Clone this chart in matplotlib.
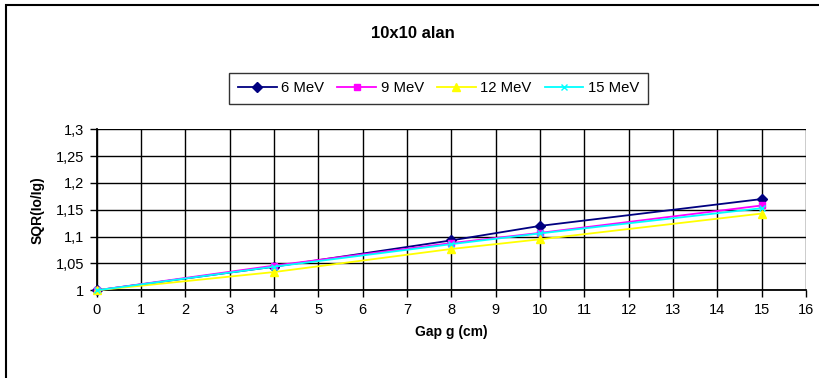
import matplotlib.pyplot as plt
from matplotlib.patches import Rectangle

plt.rcParams['font.family'] = ['Liberation Sans', 'DejaVu Sans']

# gap values (cm) and SQR(Io/Ig) for each energy
gap = [0, 4, 8, 10, 15]
mev6 = [1.0, 1.044, 1.093, 1.120, 1.170]
mev9 = [1.0, 1.046, 1.088, 1.107, 1.158]
mev12 = [1.0, 1.034, 1.077, 1.095, 1.143]
mev15 = [1.0, 1.044, 1.086, 1.106, 1.153]

labels = ['6 MeV', '9 MeV', '12 MeV', '15 MeV']
colors = ['#000080', '#FF00FF', '#FFFF00', '#00FFFF']
markers = ['D', 's', '^', 'x']
sizes = [5, 5, 6, 5]

fig = plt.figure(figsize=(8.19, 3.78), dpi=100)
ax = fig.add_axes([0.1181, 0.232, 0.866, 0.426])

for vals, lab, c, m, ms in zip([mev6, mev9, mev12, mev15], labels, colors, markers, sizes):
    ax.plot(gap, vals, color=c, marker=m, markersize=ms, linewidth=1.3,
            label=lab, clip_on=False, zorder=3)

ax.set_xlim(0, 16)
ax.set_ylim(1, 1.3)
ax.set_xticks(range(0, 17))
yt = [1, 1.05, 1.1, 1.15, 1.2, 1.25, 1.3]
ax.set_yticks(yt)
ax.set_yticklabels(['1', '1,05', '1,1', '1,15', '1,2', '1,25', '1,3'])
ax.grid(True, color='black', linewidth=1.0)
ax.set_axisbelow(True)
for side in ['top', 'right']:
    ax.spines[side].set_visible(False)
for side in ['left', 'bottom']:
    ax.spines[side].set_linewidth(1.3)
ax.tick_params(direction='out', length=5, width=1, labelsize=10.5, pad=4)

ax.set_xlabel('Gap g (cm)', fontsize=10, fontweight='bold', labelpad=6)
ax.set_ylabel('SQR(Io/Ig)', fontsize=10, fontweight='bold', labelpad=8)

fig.text(0.504, 0.912, '10x10 alan', ha='center', va='center',
         fontsize=12, fontweight='bold')

leg = fig.legend(loc='center', bbox_to_anchor=(0.5355, 0.766), ncol=4,
                 frameon=True, fancybox=False, fontsize=10.7,
                 handlelength=2.6, handletextpad=0.3, columnspacing=0.9,
                 borderpad=0.6)
leg.get_frame().set_edgecolor('black')
leg.get_frame().set_linewidth(1.0)

# outer chart border
fig.patches.append(Rectangle((6 / 819, -0.1), 1.2, 1.1 - 5 / 378,
                             transform=fig.transFigure, fill=False,
                             edgecolor='black', linewidth=1.5))

fig.savefig('out.png', dpi=100)
